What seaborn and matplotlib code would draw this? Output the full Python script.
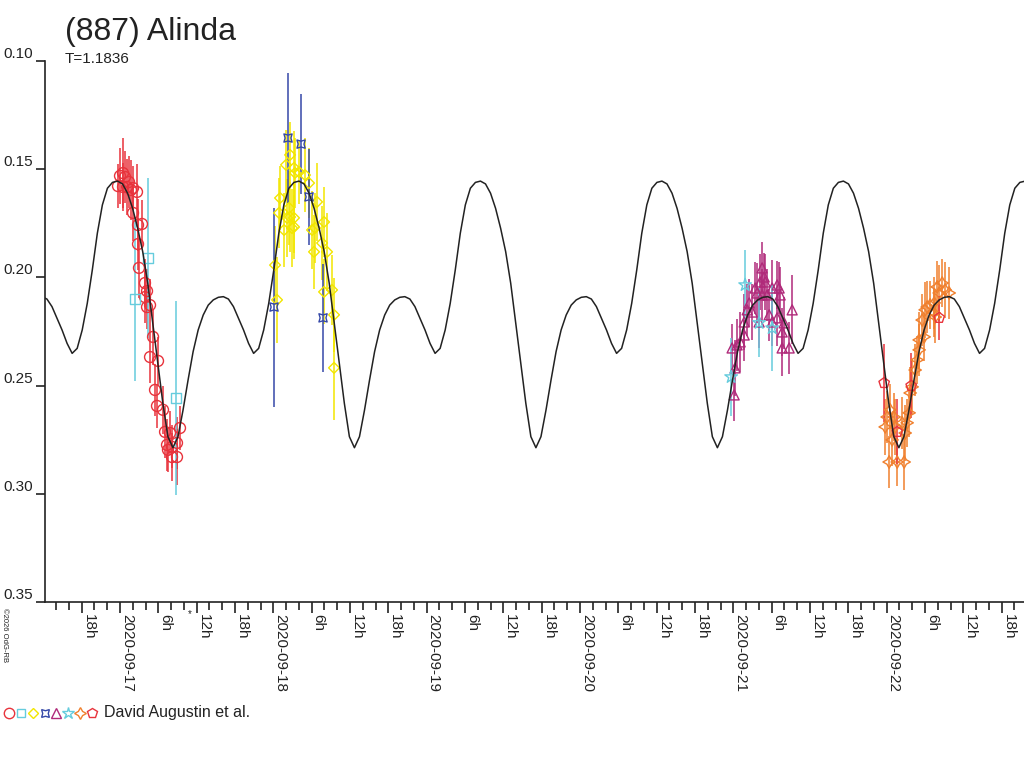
import numpy as np
import pandas as pd
import matplotlib
matplotlib.use("Agg")
import matplotlib.pyplot as plt
from matplotlib.lines import Line2D
from matplotlib.ticker import FixedLocator, FixedFormatter
import seaborn as sns

# ---------------- data ----------------
TITLE = "(887) Alinda"
PERIOD_LABEL = "T=1.1836"
PERIOD_DAYS = 1.1836
OBSERVER = "David Augustin et al."
COPYRIGHT = "\u00a92026 OdG-RB"
BASE_DATE = "2020-09-17"          # time axis: hours after this date (UT)

# model lightcurve, one rotation, sampled from the secondary minimum
CURVE_EPOCH_H = 49.32
CURVE_MAG = [0.2351, 0.2328, 0.2243, 0.2120, 0.1966, 0.1796, 0.1665, 0.1588,
             0.1561, 0.1555, 0.1568, 0.1611, 0.1681, 0.1773, 0.1881, 0.2027,
             0.2212, 0.2397, 0.2582, 0.2736, 0.2787, 0.2736, 0.2613, 0.2474,
             0.2343, 0.2243, 0.2174, 0.2128, 0.2104, 0.2092, 0.2089, 0.2100,
             0.2135, 0.2189, 0.2243, 0.2305]

# observations (hours after BASE_DATE, relative magnitude, error)
red_h = [-0.31, 0.00, 0.47, 0.78, 0.47, 1.10, 1.41, 1.72, 2.04, 2.66, 2.04, 2.82,
         3.44, 2.82, 2.97, 3.91, 4.23, 3.91, 4.70, 4.23, 5.17, 4.70, 5.95, 5.48,
         5.79, 6.73, 7.05, 7.83, 7.36, 8.14, 8.92, 9.39, 8.92, 8.14, 7.51]
red_m = [0.1578, 0.1531, 0.1518, 0.1536, 0.1582, 0.1582, 0.1559, 0.1596, 0.1587,
         0.1605, 0.1702, 0.1758, 0.1753, 0.1846, 0.1956, 0.2026, 0.2063, 0.2091,
         0.2128, 0.2137, 0.2275, 0.2368, 0.2386, 0.2520, 0.2594, 0.2612, 0.2714,
         0.2719, 0.2774, 0.2783, 0.2765, 0.2696, 0.2830, 0.2830, 0.2797]
red_e = [0.010, 0.013, 0.016, 0.012, 0.011, 0.013, 0.012, 0.014, 0.010, 0.013,
         0.013, 0.012, 0.011, 0.012, 0.014, 0.011, 0.010, 0.012, 0.012, 0.010,
         0.013, 0.012, 0.011, 0.012, 0.010, 0.011, 0.012, 0.010, 0.012, 0.010,
         0.012, 0.010, 0.013, 0.011, 0.010]

sq_h = [2.35, 4.38, 8.77]
sq_m = [0.2100, 0.1910, 0.2557]
sq_e = [0.038, 0.037, 0.045]

yel_h = [24.27, 24.58, 24.89, 25.05, 25.68, 25.99, 26.15, 26.46, 26.62, 26.62,
         26.93, 27.24, 27.24, 27.24, 27.40, 28.02, 28.96, 29.59, 30.06, 30.37,
         30.53, 30.84, 31.63, 31.94, 31.94, 32.41, 33.19, 33.50, 33.50]
yel_m = [0.1943, 0.2104, 0.1702, 0.1633, 0.1781, 0.1480, 0.1725, 0.1679, 0.1434,
         0.1721, 0.1772, 0.1494, 0.1725, 0.1767, 0.1517, 0.1513, 0.1527, 0.1564,
         0.1781, 0.1882, 0.1772, 0.1651, 0.1841, 0.1744, 0.2067, 0.1882, 0.2058,
         0.2173, 0.2418]
yel_e = [0.018, 0.020, 0.016, 0.015, 0.017, 0.016, 0.018, 0.017, 0.015, 0.016,
         0.018, 0.017, 0.016, 0.015, 0.016, 0.015, 0.017, 0.016, 0.018, 0.017,
         0.016, 0.018, 0.017, 0.016, 0.015, 0.018, 0.016, 0.017, 0.024]

nav_h = [24.11, 26.30, 28.34, 29.59, 31.78]
nav_m = [0.2137, 0.1356, 0.1384, 0.1628, 0.2187]
nav_e = [0.046, 0.030, 0.023, 0.022, 0.025]

pur_h = [96.13, 96.28, 95.81, 96.60, 97.07, 97.70, 97.70, 98.17, 98.48, 98.95,
         99.42, 99.73, 100.20, 100.51, 100.83, 100.98, 100.51, 101.29, 102.08,
         102.86, 103.17, 103.33, 101.61, 102.08, 102.86, 103.96, 103.64, 103.64,
         104.74, 105.21, 100.04]
pur_m = [0.2543, 0.2418, 0.2326, 0.2312, 0.2298, 0.2266, 0.2206, 0.2150, 0.2118,
         0.2160, 0.2049, 0.2072, 0.2021, 0.1956, 0.1998, 0.2021, 0.2081, 0.2081,
         0.2049, 0.2035, 0.2049, 0.2081, 0.2173, 0.2206, 0.2187, 0.2210, 0.2252,
         0.2326, 0.2326, 0.2150, 0.2206]
pur_e = [0.012, 0.013, 0.011, 0.012, 0.014, 0.012, 0.013, 0.012, 0.011, 0.013,
         0.012, 0.014, 0.013, 0.012, 0.011, 0.013, 0.012, 0.012, 0.013, 0.011,
         0.012, 0.013, 0.012, 0.011, 0.013, 0.012, 0.011, 0.013, 0.012, 0.016,
         0.012]

star_h = [95.66, 97.85, 100.04, 102.08]
star_m = [0.2460, 0.2035, 0.2210, 0.2234]
star_e = [0.018, 0.016, 0.016, 0.020]

ora_h = [120.08, 119.77, 120.39, 121.65, 122.74, 120.55, 121.18, 121.33, 122.43,
         123.21, 120.86, 122.90, 123.52, 123.68, 123.99, 124.46, 124.78, 125.09,
         125.09, 125.87, 125.56, 126.03, 126.34, 126.81, 127.44, 128.22, 127.91,
         128.69, 129.16, 129.79, 127.44, 127.60]
ora_m = [0.2645, 0.2691, 0.2853, 0.2853, 0.2853, 0.2612, 0.2645, 0.2691, 0.2672,
         0.2672, 0.2751, 0.2719, 0.2626, 0.2534, 0.2506, 0.2428, 0.2381, 0.2335,
         0.2289, 0.2275, 0.2197, 0.2150, 0.2137, 0.2127, 0.2118, 0.2072, 0.2044,
         0.2026, 0.2058, 0.2072, 0.2164, 0.2183]
ora_e = [0.012, 0.013, 0.012, 0.011, 0.013, 0.012, 0.011, 0.013, 0.012, 0.011,
         0.012, 0.013, 0.011, 0.012, 0.013, 0.012, 0.011, 0.012, 0.013, 0.011,
         0.012, 0.013, 0.012, 0.011, 0.012, 0.013, 0.012, 0.011, 0.013, 0.012,
         0.011, 0.012]

pent_h = [119.61, 121.65, 123.84, 128.22]
pent_m = [0.2488, 0.2714, 0.2501, 0.2187]
pent_e = [0.018, 0.015, 0.015, 0.010]

RED = "#E8333C"
CYAN = "#66CCDD"
YELLOW = "#F2E600"
NAVY = "#3548A8"
PURPLE = "#B02A7A"
ORANGE = "#F0802E"
INK = "#222222"

SERIES = [
    (red_h, red_m, red_e, RED, "o", 62),
    (sq_h, sq_m, sq_e, CYAN, "s", 44),
    (yel_h, yel_m, yel_e, YELLOW, "D", 30),
    (nav_h, nav_m, nav_e, NAVY, (4, 1, 45), 70),
    (pur_h, pur_m, pur_e, PURPLE, "^", 52),
    (star_h, star_m, star_e, CYAN, "*", 90),
    (ora_h, ora_m, ora_e, ORANGE, (4, 1, 0), 80),
    (pent_h, pent_m, pent_e, RED, "p", 62),
]

# ---------------- figure ----------------
sns.set_style("white")
plt.rcParams["font.family"] = ["Liberation Sans", "DejaVu Sans"]

W, H = 1024, 768
fig = plt.figure(figsize=(W / 100, H / 100), dpi=100)
ax = fig.add_axes([45 / W, 1 - 602 / H, (W - 45) / W, (602 - 61) / H])

# fitted curve, repeated over the whole time range
P = PERIOD_DAYS * 24
phase = np.arange(len(CURVE_MAG)) / len(CURVE_MAG)
ct, cm = [], []
for k in range(-3, 4):
    ct.extend(CURVE_EPOCH_H + (k + phase) * P)
    cm.extend(CURVE_MAG)
curve = pd.DataFrame({"t": ct, "m": cm})

for h, m, e, col, mk, s in SERIES:
    ax.errorbar(h, m, yerr=e, fmt="none", ecolor=col, elinewidth=1.1,
                capsize=0, zorder=2)
    df = pd.DataFrame({"t": h, "m": m})
    sns.scatterplot(data=df, x="t", y="m", ax=ax, marker=mk, s=s,
                    color=col, facecolor="none", edgecolor=col,
                    linewidth=1.0, zorder=3, legend=False)

sns.lineplot(data=curve, x="t", y="m", ax=ax, color=INK, lw=1.1,
             sort=False, estimator=None, zorder=4)

ax.set_xlim(-11.74, 141.5)
ax.set_ylim(0.35, 0.10)
ax.set_xlabel("")
ax.set_ylabel("")

# y ticks
yt = [0.10, 0.15, 0.20, 0.25, 0.30, 0.35]
ax.yaxis.set_major_locator(FixedLocator(yt))
ax.yaxis.set_major_formatter(FixedFormatter([f"{v:.2f}" for v in yt]))
ax.tick_params(axis="y", which="major", direction="out", length=6.5, width=1.2,
               color=INK, pad=2, labelsize=11, labelcolor=INK, left=True)
for lab in ax.get_yticklabels():
    lab.set_va("bottom")

# x ticks: every 2 h, labelled every 6 h
base = pd.Timestamp(BASE_DATE)
major = [h for h in range(-6, 142, 6)]
minor = [h for h in range(-10, 142, 2) if h % 6 != 0]
labels = []
for hh in major:
    ts = base + pd.Timedelta(hours=hh)
    labels.append(ts.strftime("%Y-%m-%d") if ts.hour == 0 else f"{ts.hour}h")
ax.xaxis.set_major_locator(FixedLocator(major))
ax.xaxis.set_major_formatter(FixedFormatter(labels))
ax.xaxis.set_minor_locator(FixedLocator(minor))
ax.tick_params(axis="x", which="major", direction="out", length=8, width=1.2,
               color=INK, pad=1, labelsize=11, labelcolor=INK, bottom=True)
ax.tick_params(axis="x", which="minor", direction="out", length=5.5, width=1.2,
               color=INK, bottom=True)
for lab in ax.get_xticklabels():
    lab.set_rotation(270)
    lab.set_ha("left")
    lab.set_va("top")

sns.despine(ax=ax, top=True, right=True)
for sp in ("left", "bottom"):
    ax.spines[sp].set_color(INK)
    ax.spines[sp].set_linewidth(1.2)

ax.annotate("*", xy=(10.96, 0), xycoords=("data", "axes fraction"),
            xytext=(0, -9), textcoords="offset points", ha="center", va="center",
            fontsize=7, color=INK)

# texts
fig.text(65 / W, 1 - 40 / H, TITLE, fontsize=23, color=INK, va="baseline", ha="left")
fig.text(65 / W, 1 - 63 / H, PERIOD_LABEL, fontsize=11, color=INK, va="baseline", ha="left")
fig.text(1 / W, 1 - 608 / H, COPYRIGHT, fontsize=5.5, color=INK, rotation=270,
         ha="left", va="top")

# legend row
leg_y = 1 - 713 / H
leg_x = [9, 21, 33, 45, 56, 68, 80, 92]
for xpx, (_, _, _, col, mk, s) in zip(leg_x, SERIES):
    fig.add_artist(Line2D([xpx / W], [leg_y], transform=fig.transFigure,
                          marker=mk, markersize=np.sqrt(s) * 0.95, mfc="none",
                          mec=col, mew=1.0, linestyle="none"))
fig.text(104 / W, leg_y, OBSERVER, fontsize=11.5, color=INK, va="center", ha="left")

fig.savefig("out.png", dpi=100, facecolor="white")
